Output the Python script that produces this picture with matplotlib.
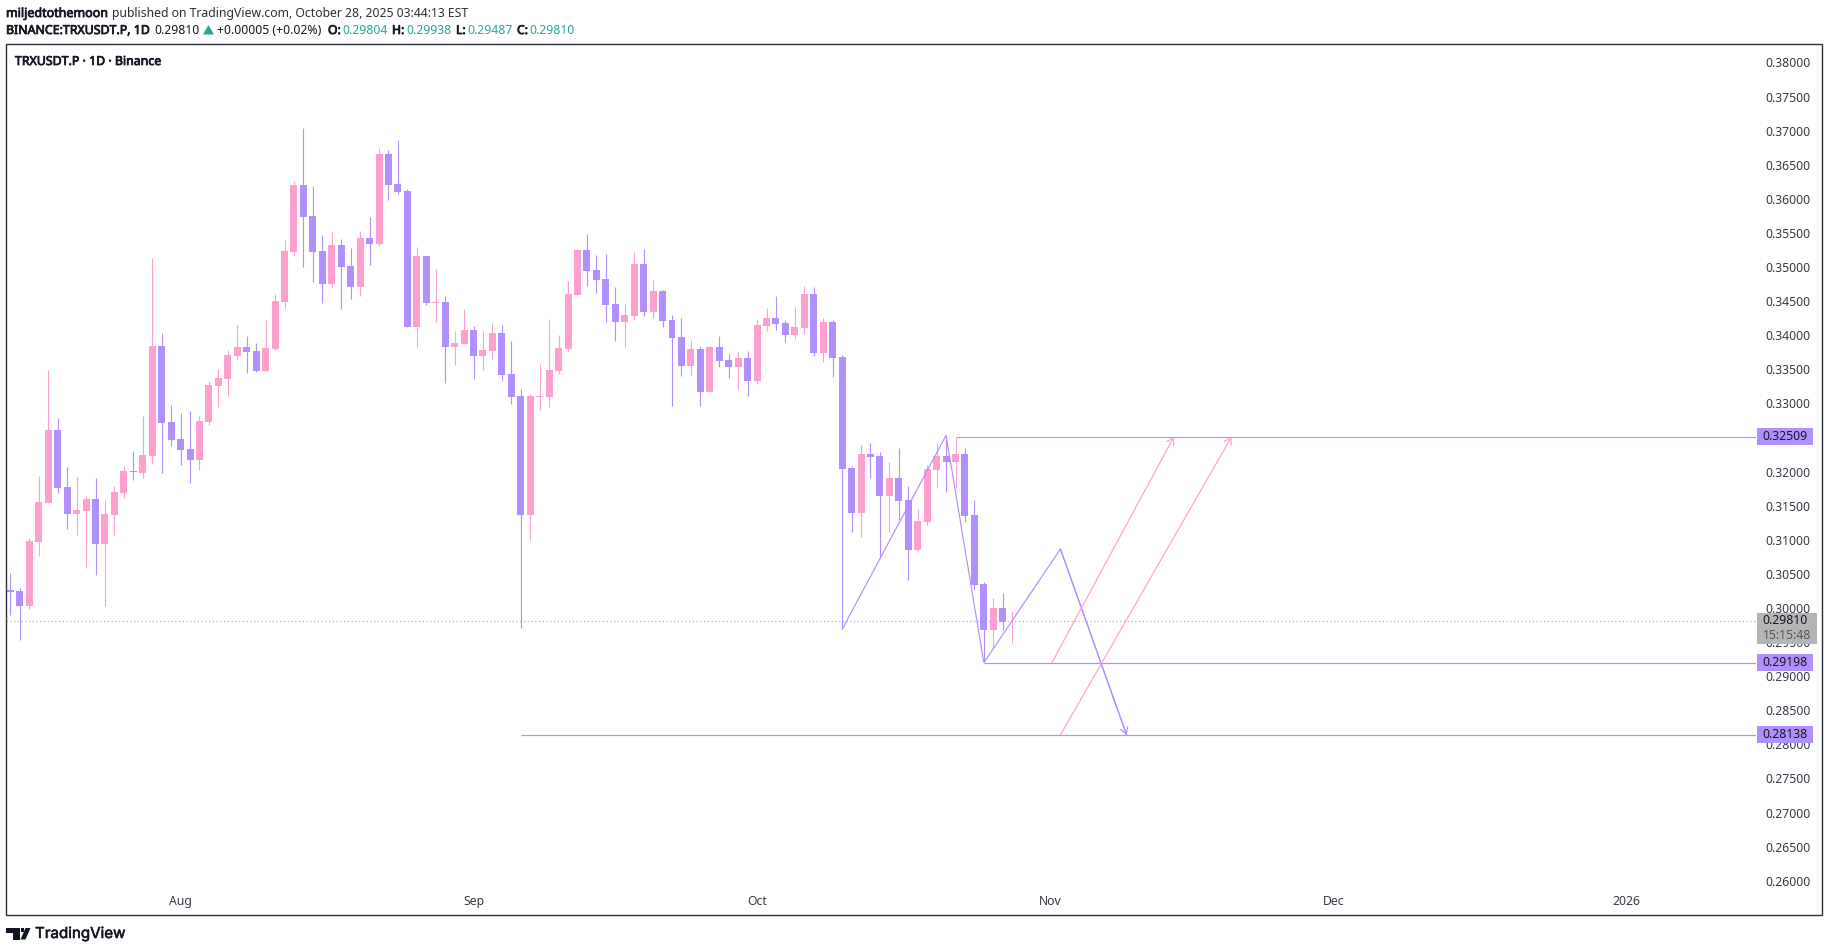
import matplotlib
matplotlib.use("Agg")
import matplotlib.pyplot as plt
import matplotlib.patheffects as pe
from matplotlib.patches import Rectangle, Polygon
from matplotlib.transforms import blended_transform_factory

plt.rcParams['font.family'] = ['Noto Sans', 'DejaVu Sans']

# daily candles, index 0 = 14 Jul 2025 ... index 106 = 28 Oct 2025
opens = [.30263,.30249,.30029,.30967,.31539,.32610,.31774,.31378,.31422,.31598,.30938,.31363,.31686,.32008,.31979,.32228,.33841,.32727,.32478,.32331,
         .32170,.32727,.33255,.33358,.33695,.33827,.33768,.33475,.33797,.34487,.35220,.36202,.35748,.35235,.34751,.35323,.35015,.34707,.35425,.35337,
         .36657,.36217,.36114,.34120,.35161,.34472,.34487,.33827,.33871,.34076,.33695,.33768,.34032,.33431,.33108,.31363,.33094,.33094,.33475,.33797,
         .34589,.35249,.34956,.34824,.34457,.34193,.34281,.35044,.34340,.34648,.34223,.33973,.33548,.33797,.33167,.33827,.33636,.33534,.33665,.33328,
         .34135,.34252,.34179,.34003,.34105,.34604,.33739,.34193,.33680,.32052,.31393,.32258,.32228,.31642,.31906,.31583,.30850,.31261,.32023,.32228,
         .32140,.32258,.31363,.30351,.29677,.29999,.29804]
highs = [.30508,.30288,.31021,.31935,.33490,.32786,.32067,.31920,.31642,.31906,.31583,.31788,.32082,.32302,.32815,.35132,.34032,.32976,.32859,.32888,
         .32815,.33328,.33504,.33783,.34149,.33988,.33885,.34223,.34604,.35396,.36261,.37038,.36188,.35469,.35513,.35411,.35279,.35528,.35733,.36745,
         .36716,.36862,.36144,.35293,.35161,.34971,.34575,.34061,.34384,.34135,.34061,.34179,.34149,.33915,.33211,.33138,.33577,.34237,.34003,.34795,
         .35264,.35484,.35176,.35191,.34707,.34457,.35220,.35264,.34809,.34663,.34296,.34252,.33929,.33841,.33841,.33988,.33724,.33753,.33768,.34223,
         .34399,.34575,.34223,.34413,.34721,.34707,.34252,.34223,.33709,.32082,.32390,.32419,.32287,.32140,.32346,.31788,.31451,.32096,.32419,.32531,
         .32502,.32346,.31583,.30381,.30146,.30219,.29938]
lows = [.29897,.29530,.29985,.30762,.31539,.31686,.31158,.31070,.30586,.30483,.30029,.31055,.31613,.31876,.31906,.32111,.31979,.32375,.32096,.31832,
        .32023,.32683,.32932,.33108,.33636,.33446,.33460,.33475,.33783,.34399,.35161,.35000,.34780,.34472,.34692,.34384,.34531,.34575,.35029,.35308,
        .35982,.36070,.34120,.33827,.34443,.34193,.33299,.33563,.33871,.33358,.33490,.33636,.33328,.32991,.29711,.30997,.32903,.32947,.33431,.33768,
        .34589,.34721,.34619,.34193,.33915,.33827,.34223,.34281,.34252,.34120,.32962,.33402,.33416,.32962,.33167,.33534,.33372,.33211,.33108,.33284,
        .34061,.34076,.33900,.33944,.34017,.33695,.33607,.33387,.29687,.31114,.31041,.31906,.30728,.31114,.31290,.30410,.30835,.31217,.31759,.31700,
        .31754,.31261,.30263,.29203,.29408,.29677,.29487]
closes = [.30234,.30029,.30982,.31554,.32610,.31759,.31378,.31437,.31598,.30938,.31378,.31700,.32008,.31994,.32243,.33841,.32712,.32463,.32316,.32170,
          .32742,.33270,.33372,.33709,.33827,.33753,.33475,.33812,.34501,.35235,.36202,.35733,.35220,.34751,.35323,.35000,.34707,.35425,.35337,.36657,
          .36202,.36100,.34120,.35161,.34472,.34487,.33827,.33885,.34076,.33695,.33783,.34032,.33416,.33094,.31363,.33108,.33108,.33490,.33812,.34604,
          .35249,.34941,.34809,.34443,.34193,.34296,.35044,.34340,.34648,.34208,.33959,.33548,.33797,.33167,.33827,.33621,.33534,.33665,.33328,.34149,
          .34252,.34164,.34003,.34120,.34604,.33739,.34193,.33665,.32038,.31393,.32258,.32214,.31642,.31906,.31569,.30850,.31275,.32038,.32228,.32140,
          .32258,.31349,.30337,.29677,.29999,.29794,.29810]

y_ticks = [.26,.265,.27,.275,.28,.285,.29,.295,.30,.305,.31,.315,.32,.325,.33,.335,.34,.345,.35,.355,.36,.365,.37,.375,.38]
month_pos = [18, 49, 79, 110, 140, 171]
month_labels = ['Aug', 'Sep', 'Oct', 'Nov', 'Dec', '2026']

last_price = 0.29810
levels = [0.32509, 0.29198, 0.28138]
level_starts = [100, 103, 54]
zigzag_x = [88, 99, 103, 111.1, 118.1]
zigzag_y = [.29687, .32531, .29198, .30865, .28138]
pink_arrows = [(110.2, .29198, 123.1, .32509), (111.1, .28138, 129.2, .32509)]

PURPLE = '#B18FFF'
PINK = '#FF9FCF'
TEAL = '#26A69A'
DARK = '#131722'

W, H = 1829, 952
fig = plt.figure(figsize=(W / 100, H / 100), dpi=100, facecolor='white')
def fx(px): return px / W
def fy(py): return 1 - py / H

L, R, T, B = 6.2, 1756, 44, 915
ax = fig.add_axes([fx(L), fy(B), fx(R - L), fy(T) - fy(B)])
ax.set_xlim(-0.45, 184.7)
ax.set_ylim(.25498, .38270)
for s in ax.spines.values():
    s.set_visible(False)
ax.set_axisbelow(True)

# candles
xs = list(range(len(opens)))
cols = [PINK if c >= o else PURPLE for o, c in zip(opens, closes)]
ax.vlines(xs, lows, highs, colors=cols, linewidth=0.8, zorder=2)
ax.bar(xs, [abs(c - o) for o, c in zip(opens, closes)], bottom=[min(o, c) for o, c in zip(opens, closes)],
       width=0.74, color=cols, linewidth=0, zorder=3)

# last price line
ax.axhline(last_price, color='#B0B0B0', lw=0.9, ls=(0, (1, 2)), zorder=1)

# drawings
arrow = '->,head_length=0.45,head_width=0.28'
for lv, st in zip(levels, level_starts):
    ax.plot([st, 184.7], [lv, lv], color=PURPLE, lw=0.85, zorder=4, solid_capstyle='butt')
ax.plot(zigzag_x, zigzag_y, color=PURPLE, lw=0.85, zorder=4, solid_joinstyle='miter')
ax.annotate('', xy=(zigzag_x[-1], zigzag_y[-1]), xytext=(zigzag_x[-2], zigzag_y[-2]),
            arrowprops=dict(arrowstyle=arrow, color=PURPLE, lw=0.85, shrinkA=0, shrinkB=0), zorder=4)
for x0, y0, x1, y1 in pink_arrows:
    ax.annotate('', xy=(x1, y1), xytext=(x0, y0),
                arrowprops=dict(arrowstyle=arrow, color=PINK, lw=0.85, shrinkA=0, shrinkB=0), zorder=4)

# axes ticks
ax.yaxis.tick_right()
ax.set_yticks(y_ticks)
ax.set_yticklabels([f'{v:.5f}' for v in y_ticks], fontsize=8.8, color='#363A45')
ax.tick_params(axis='y', length=0, pad=6.5)
ax.set_xticks(month_pos)
ax.set_xticklabels(month_labels, fontsize=8.8, color='#363A45')
ax.tick_params(axis='x', length=0, pad=-14.5)

# frame
fig.add_artist(Rectangle((fx(L), fy(B)), fx(1822 - L), fy(T) - fy(B), fill=False, ec='#2A2E39', lw=1.0,
                         transform=fig.transFigure))

# price labels
tr = blended_transform_factory(fig.transFigure, ax.transData)
ph = 17 / 6820  # 17 px high expressed in price
for lv in levels:
    ax.add_patch(Rectangle((fx(1757), lv - ph / 2), fx(56), ph, transform=tr, fc=PURPLE, ec='none', clip_on=False, zorder=6))
    ax.text(fx(1785), lv, f'{lv:.5f}', transform=tr, ha='center', va='center', fontsize=8.8, color=DARK, zorder=7, clip_on=False)
gt = last_price + 7.5 / 6820
ax.add_patch(Rectangle((fx(1757), gt - 31 / 6820), fx(60), 31 / 6820, transform=tr, fc='#B5B5B5', ec='none', clip_on=False, zorder=6))
ax.text(fx(1785), last_price, f'{last_price:.5f}', transform=tr, ha='center', va='center', fontsize=8.8, color=DARK, zorder=7, clip_on=False)
ax.text(fx(1787), last_price - 14.5 / 6820, '15:15:48', transform=tr, ha='center', va='center', fontsize=8.8, color='#555555', zorder=7, clip_on=False)

# header
def t(x, y, s, bold=False, **kw):
    kw.setdefault('fontsize', 8.8)
    kw.setdefault('color', DARK)
    txt = fig.text(fx(x), fy(y), s, ha='left', va='center', **kw)
    if bold:
        txt.set_path_effects([pe.withStroke(linewidth=0.55, foreground=kw['color'])])
    return txt

t(6, 13.5, 'miljedtothemoon', bold=True, fontsize=9)
t(111.5, 13.5, 'published on TradingView.com, October 28, 2025 03:44:13 EST', color='#2A2E39')
t(6, 30.5, 'BINANCE:TRXUSDT.P, 1D', bold=True, fontsize=8.9)
t(154, 30.5, '0.29810')
fig.add_artist(Polygon([(fx(203), fy(34.5)), (fx(214), fy(34.5)), (fx(208.5), fy(25))], closed=True, fc=TEAL, ec='none', transform=fig.transFigure))
t(217, 30.5, '+0.00005 (+0.02%)')
for x, s in [(328, 'O:'), (392, 'H:'), (456, 'L:'), (517, 'C:')]:
    t(x, 30.5, s, bold=True)
for x, s in [(342, '0.29804'), (406, '0.29938'), (467, '0.29487'), (529, '0.29810')]:
    t(x, 30.5, s, color=TEAL)
t(15, 61.5, 'TRXUSDT.P · 1D · Binance', bold=True, fontsize=8.9)

# TradingView logo
for pts in ([(6, 928), (19.5, 928), (19.5, 939.5), (13, 939.5), (13, 932.5), (6, 932.5)],
            [(25.5, 928), (30.5, 928), (25.5, 939.5), (20.5, 939.5)]):
    fig.add_artist(Polygon([(fx(a), fy(b)) for a, b in pts], closed=True, fc='#131722', ec='none', transform=fig.transFigure))
fig.add_artist(Rectangle((fx(20.5), fy(932.2)), fx(3.6), fy(928) - fy(932.2), fc='#131722', ec='none', transform=fig.transFigure))
logo = fig.text(fx(35), fy(934), 'TradingView', ha='left', va='center', fontsize=10.9, color='#131722', family=['Inter', 'DejaVu Sans'])
logo.set_path_effects([pe.withStroke(linewidth=0.4, foreground='#131722')])

fig.savefig('out.png', dpi=100, facecolor='white')
